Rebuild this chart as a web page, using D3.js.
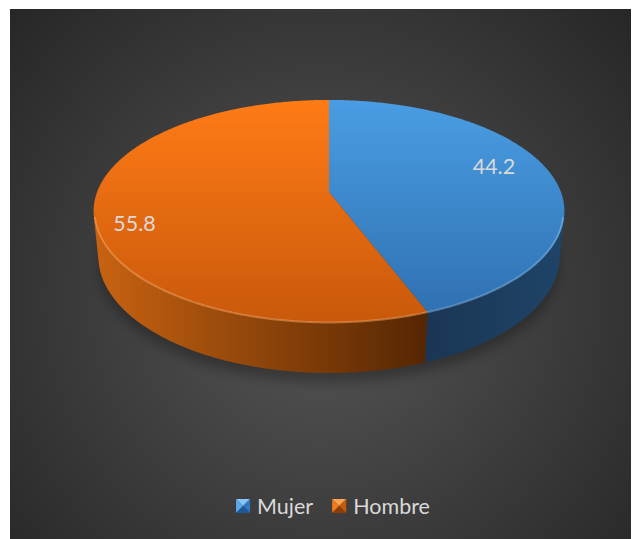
<!DOCTYPE html>
<html>
<head>
<meta charset="utf-8">
<script src="https://cdn.jsdelivr.net/npm/d3@7"></script>
<style>
  html, body { margin: 0; padding: 0; background: #ffffff; }
  svg { display: block; }
  text { font-family: Lato, "Open Sans", sans-serif; }
</style>
</head>
<body>
<svg id="chart" width="634" height="539"></svg>
<script>
// Share by sex (%)
const categories = ["Mujer", "Hombre"];
const values = [44.2, 55.8];
const valueLabels = ["44.2", "55.8"];

// Face colours per slice
const topLight = ["#4a9de3", "#ff7b16"];
const topDark = ["#2e6fb0", "#c9590b"];
const wallLight = ["#1a3654", "#c86311"];
const wallDark = ["#1f4468", "#552603"];
const rimColor = ["rgba(140,195,245,0.45)", "rgba(255,170,100,0.5)"];
const markerFace = [
  ["#86c6f7", "#5aa7ec", "#2f77bf", "#1e5896"],
  ["#ffa352", "#f07a1c", "#c45a0c", "#8e3e06"]
];

const W = 634, H = 539;
const svg = d3.select("#chart");
const defs = svg.append("defs");

// ---- dark panel with radial shading ----
const bg = defs.append("radialGradient")
  .attr("id", "panelGrad").attr("gradientUnits", "userSpaceOnUse")
  .attr("cx", 322).attr("cy", 300).attr("r", 430);
bg.append("stop").attr("offset", 0).attr("stop-color", "#565656");
bg.append("stop").attr("offset", 1).attr("stop-color", "#262626");
svg.append("rect")
  .attr("x", 10).attr("y", 9).attr("width", 621).attr("height", 530)
  .attr("fill", "url(#panelGrad)");

// ---- perspective camera for the 3D disc ----
const cx = 329, cy = 192;           // screen position of the disc centre
const focal = 1199, dist = 5.17;    // focal length and camera distance (disc radius = 1)
const sinT = 0.465, cosT = Math.sqrt(1 - sinT * sinT); // camera elevation
const thickness = 0.223;            // disc height relative to radius

function project(X, Y, Z) {
  const v = -Z * sinT - Y * cosT;
  const w = Z * cosT - Y * sinT;
  const k = focal / (dist + w);
  return [cx + X * k, cy + v * k];
}
function rimPoints(a0, a1, y, r = 1) {
  const n = Math.max(2, Math.ceil((a1 - a0) / 0.01));
  return d3.range(n + 1).map(i => {
    const a = a0 + (a1 - a0) * i / n;
    return project(r * Math.sin(a), y, r * Math.cos(a));
  });
}

// the outer wall faces the camera where cos(angle) < -1/(dist*cos)
const wallFrom = Math.acos(-1 / (dist * cosT));
const wallTo = 2 * Math.PI - wallFrom;

const pie = d3.pie().sort(null).value(d => d)(values);
const line = d3.line();
const closed = d3.line().curve(d3.curveLinearClosed);

// gradients
pie.forEach((p, i) => {
  const tg = defs.append("linearGradient").attr("id", "top" + i)
    .attr("gradientUnits", "userSpaceOnUse").attr("x1", 0).attr("y1", 100).attr("x2", 0).attr("y2", 322);
  tg.append("stop").attr("offset", 0).attr("stop-color", topLight[i]);
  tg.append("stop").attr("offset", 1).attr("stop-color", topDark[i]);

  const a0 = Math.max(p.startAngle, wallFrom), a1 = Math.min(p.endAngle, wallTo);
  const xs = a0 < a1 ? rimPoints(a0, a1, 0).map(q => q[0]) : [0, 1];
  const wg = defs.append("linearGradient").attr("id", "wall" + i)
    .attr("gradientUnits", "userSpaceOnUse")
    .attr("x1", d3.min(xs)).attr("y1", 0).attr("x2", d3.max(xs)).attr("y2", 0);
  wg.append("stop").attr("offset", 0).attr("stop-color", wallLight[i]);
  wg.append("stop").attr("offset", 1).attr("stop-color", wallDark[i]);
});

// soft shadow beneath the disc
defs.append("filter").attr("id", "soft").attr("x", "-20%").attr("y", "-20%").attr("width", "140%").attr("height", "140%")
  .append("feGaussianBlur").attr("stdDeviation", 6);
svg.append("path")
  .attr("d", closed(rimPoints(0, 2 * Math.PI, -thickness - 0.02, 1.0)))
  .attr("fill", "#000").attr("opacity", 0.28)
  .attr("transform", "translate(0,5)")
  .attr("filter", "url(#soft)");

// walls
const g = svg.append("g");
pie.forEach((p, i) => {
  const a0 = Math.max(p.startAngle, wallFrom), a1 = Math.min(p.endAngle, wallTo);
  if (a0 >= a1) return;
  const topEdge = rimPoints(a0, a1, 0);
  const botEdge = rimPoints(a0, a1, -thickness).reverse();
  g.append("path").attr("d", closed(topEdge.concat(botEdge))).attr("fill", `url(#wall${i})`);
});

// top faces
pie.forEach((p, i) => {
  const pts = [project(0, 0, 0)].concat(rimPoints(p.startAngle, p.endAngle, 0));
  g.append("path").attr("d", closed(pts)).attr("fill", `url(#top${i})`);
});

// light bevel along the front rim
pie.forEach((p, i) => {
  const a0 = Math.max(p.startAngle, wallFrom), a1 = Math.min(p.endAngle, wallTo);
  if (a0 >= a1) return;
  g.append("path").attr("d", line(rimPoints(a0, a1, -0.004, 0.996)))
    .attr("fill", "none").attr("stroke", rimColor[i]).attr("stroke-width", 2);
});

// value labels, placed inside each slice near its outer edge
const labelRadius = [0.785, 0.845];
pie.forEach((p, i) => {
  const mid = (p.startAngle + p.endAngle) / 2 - 0.15;
  const r = labelRadius[i];
  const [lx, ly] = project(r * Math.sin(mid), 0, r * Math.cos(mid));
  g.append("text")
    .attr("x", lx).attr("y", ly + 8)
    .attr("text-anchor", "middle")
    .attr("font-size", 21.5)
    .attr("fill", "#d9d9d9")
    .text(valueLabels[i]);
});

// ---- legend ----
const legend = svg.append("g");
const mSize = 14, mGap = 7, itemGap = 19;
const items = categories.map((name, i) => {
  const item = legend.append("g");
  const t = item.append("text").attr("font-size", 21.5).attr("fill", "#d9d9d9").text(name);
  return { item, t, w: t.node().getComputedTextLength() };
});
const total = d3.sum(items, d => mSize + mGap + d.w) + itemGap * (items.length - 1);
let x0 = 333 - total / 2;
const my = 499;
items.forEach((d, i) => {
  const f = markerFace[i];
  const x = x0, y = my, s = mSize, m = [x + s / 2, y + s / 2];
  const tri = (a, b) => closed([a, b, m]);
  d.item.insert("path", "text").attr("d", tri([x, y], [x + s, y])).attr("fill", f[0]);
  d.item.insert("path", "text").attr("d", tri([x, y], [x, y + s])).attr("fill", f[1]);
  d.item.insert("path", "text").attr("d", tri([x + s, y], [x + s, y + s])).attr("fill", f[2]);
  d.item.insert("path", "text").attr("d", tri([x, y + s], [x + s, y + s])).attr("fill", f[3]);
  d.t.attr("x", x + s + mGap).attr("y", 514);
  x0 += s + mGap + d.w + itemGap;
});
</script>
</body>
</html>
